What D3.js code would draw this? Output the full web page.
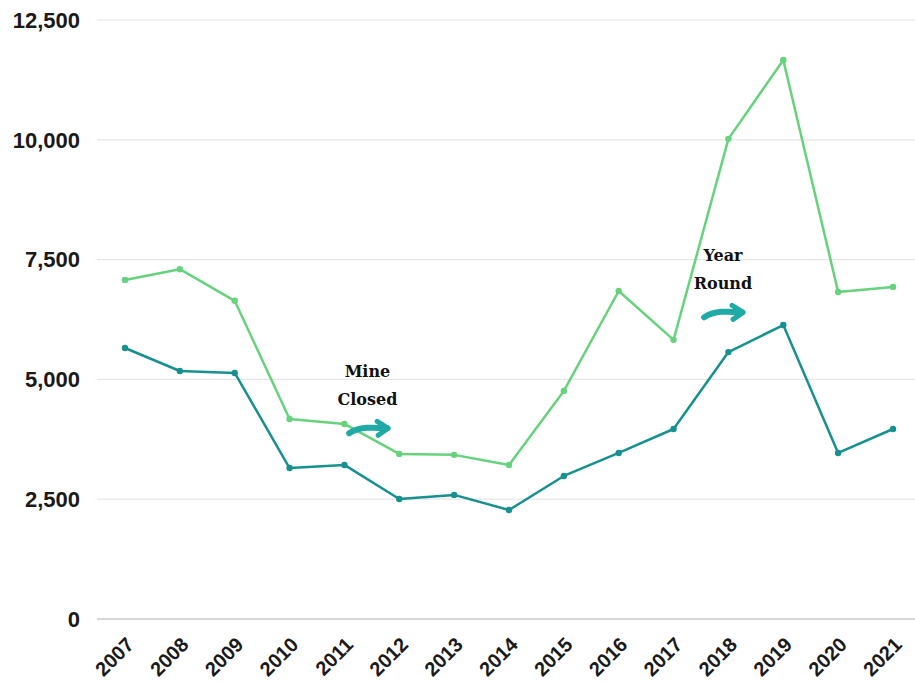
<!DOCTYPE html>
<html>
<head>
<meta charset="utf-8">
<script src="https://cdn.jsdelivr.net/npm/d3@7"></script>
<style>
  body { margin: 0; background: #fff; }
</style>
</head>
<body>
<div id="chart"></div>
<script>
// Two series, 2007-2021
const years = [2007, 2008, 2009, 2010, 2011, 2012, 2013, 2014, 2015, 2016, 2017, 2018, 2019, 2020, 2021];
const totalSeries = [7075, 7300, 6640, 4175, 4070, 3445, 3425, 3215, 4760, 6845, 5825, 10020, 11665, 6825, 6930];
const lowerSeries = [5655, 5175, 5135, 3150, 3215, 2505, 2590, 2275, 2985, 3465, 3965, 5570, 6135, 3465, 3965];
const yTicks = [0, 2500, 5000, 7500, 10000, 12500];

const notes = [
    { lines: ["Mine", "Closed"], x: 2011.42, y: 5050, arrowX: 2011.05, arrowY: 4000 },
    { lines: ["Year", "Round"], x: 2017.9, y: 7470, arrowX: 2017.52, arrowY: 6420 }
];

const width = 915;
const height = 683;
const margin = { top: 20, right: 22, bottom: 64, left: 97 };

const svg = d3.select("#chart").append("svg")
    .attr("width", width)
    .attr("height", height);

const x = d3.scalePoint()
    .domain(years)
    .range([125, 893]);

const y = d3.scaleLinear()
    .domain([0, 12500])
    .range([height - margin.bottom, margin.top]);

// gridlines
svg.append("g")
    .selectAll("line")
    .data(yTicks)
    .join("line")
    .attr("x1", margin.left)
    .attr("x2", width)
    .attr("y1", d => y(d))
    .attr("y2", d => y(d))
    .attr("stroke", d => d === 0 ? "#c8c8c8" : "#e6e6e6")
    .attr("stroke-width", d => d === 0 ? 1.5 : 1.2);

// y labels
svg.append("g")
    .selectAll("text")
    .data(yTicks)
    .join("text")
    .attr("x", 80)
    .attr("y", d => y(d))
    .attr("dy", "0.35em")
    .attr("text-anchor", "end")
    .attr("font-family", "Liberation Sans, Arial, sans-serif")
    .attr("font-weight", "bold")
    .attr("font-size", "22px")
    .attr("fill", "#1a1a1a")
    .text(d => d3.format(",")(d));

// x labels
svg.append("g")
    .selectAll("text")
    .data(years)
    .join("text")
    .attr("transform", d => `translate(${x(d) + 10}, 646) rotate(-45)`)
    .attr("text-anchor", "end")
    .attr("font-family", "Liberation Sans, Arial, sans-serif")
    .attr("font-weight", "bold")
    .attr("font-size", "20px")
    .attr("fill", "#1a1a1a")
    .text(d => d);

const line = d3.line()
    .x((d, i) => x(years[i]))
    .y(d => y(d));

const series = [
    { values: totalSeries, color: "#66d27c" },
    { values: lowerSeries, color: "#16918f" }
];

series.forEach(s => {
    svg.append("path")
        .datum(s.values)
        .attr("fill", "none")
        .attr("stroke", s.color)
        .attr("stroke-width", 2.5)
        .attr("stroke-linejoin", "round")
        .attr("d", line);

    svg.append("g")
        .selectAll("circle")
        .data(s.values)
        .join("circle")
        .attr("cx", (d, i) => x(years[i]))
        .attr("cy", d => y(d))
        .attr("r", 3.2)
        .attr("fill", s.color);
});

// annotations
const xs = d3.scaleLinear().domain([2007, 2021]).range([125, 893]);

notes.forEach(n => {
    const t = svg.append("text")
        .attr("x", xs(n.x))
        .attr("y", y(n.y))
        .attr("text-anchor", "middle")
        .attr("font-family", "DejaVu Serif, serif")
        .attr("font-weight", "bold")
        .attr("font-size", "16px")
        .attr("fill", "#111");
    n.lines.forEach((l, i) => {
        t.append("tspan")
            .attr("x", xs(n.x))
            .attr("dy", i === 0 ? 0 : "1.75em")
            .text(l);
    });

    // hand-drawn style arrow
    const ax = xs(n.arrowX);
    const ay = y(n.arrowY);
    const g = svg.append("g").attr("transform", `translate(${ax}, ${ay})`);
    g.append("path")
        .attr("d", "M2,6 C12,-1 26,0 40,1")
        .attr("fill", "none")
        .attr("stroke", "#1faaa6")
        .attr("stroke-width", 6)
        .attr("stroke-linecap", "round");
    g.append("path")
        .attr("d", "M30,-6 L41,1 L31,8")
        .attr("fill", "none")
        .attr("stroke", "#1faaa6")
        .attr("stroke-width", 5)
        .attr("stroke-linecap", "round")
        .attr("stroke-linejoin", "round");
});
</script>
</body>
</html>
